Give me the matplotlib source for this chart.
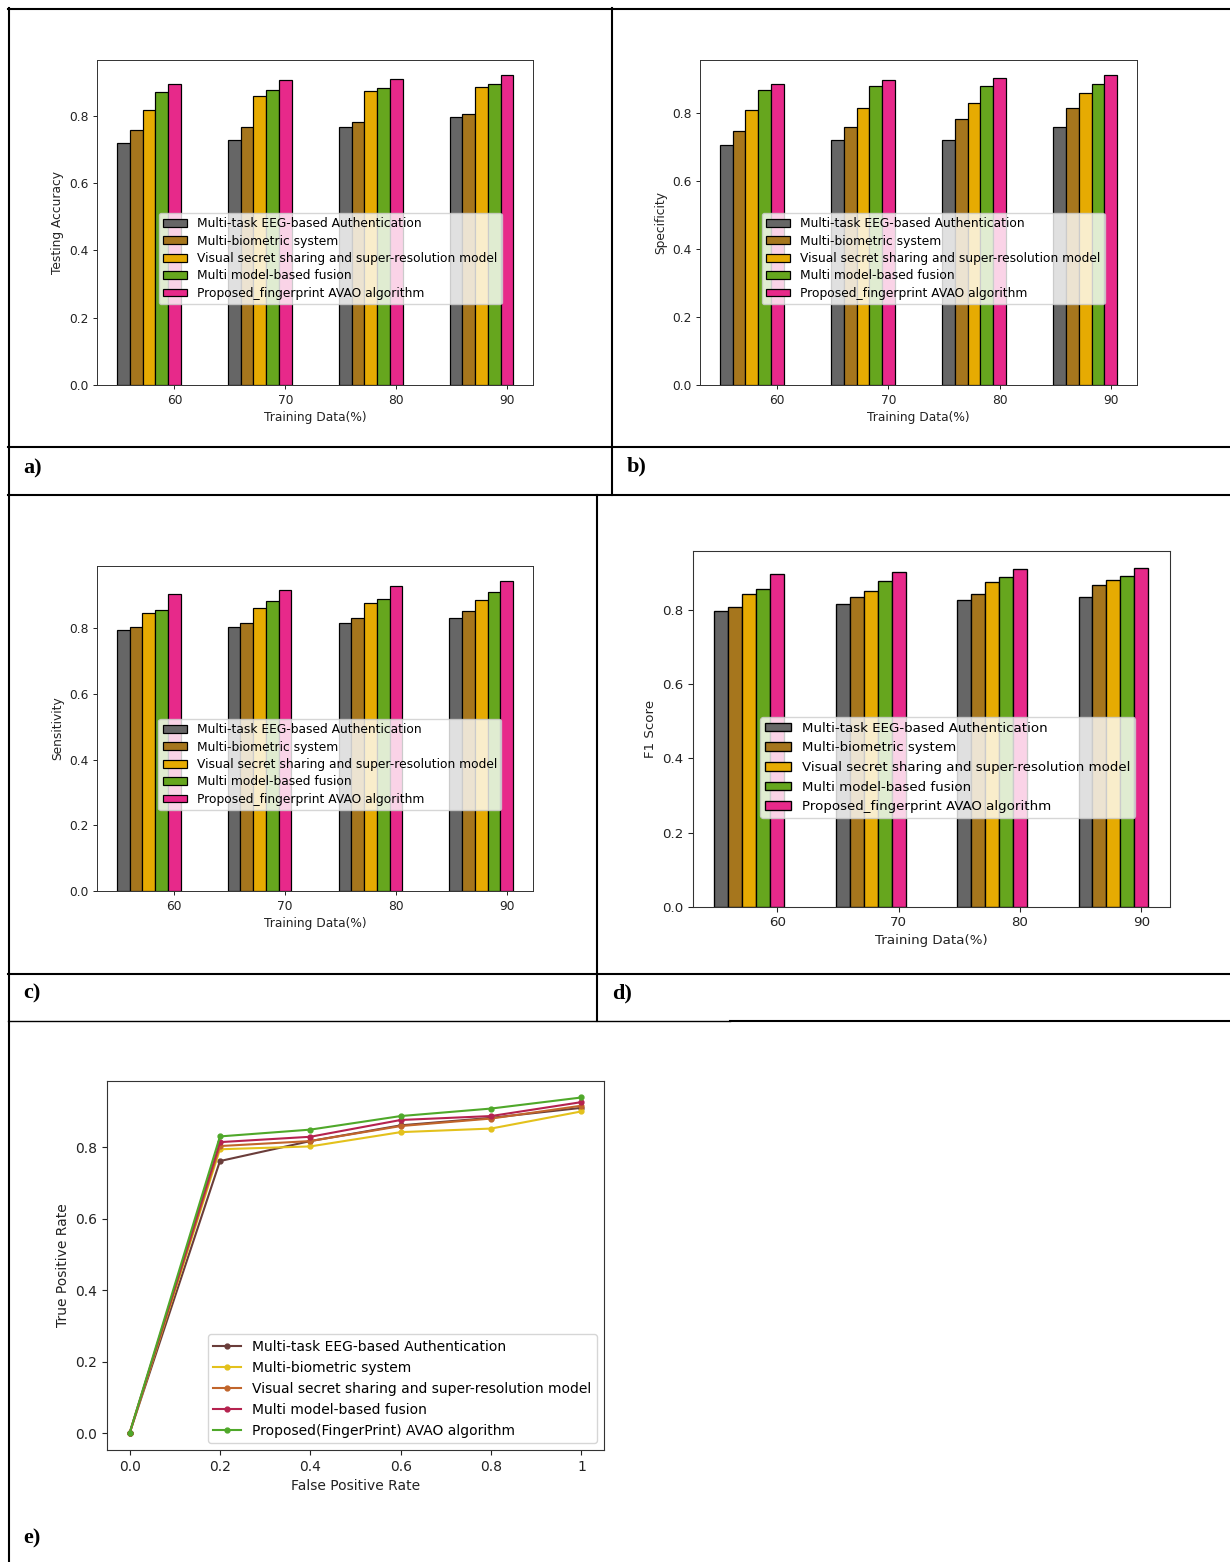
import matplotlib
matplotlib.use("Agg")
import matplotlib.pyplot as plt
import numpy as np
from matplotlib.lines import Line2D

# ---------------- data ----------------
training = ["60", "70", "80", "90"]
methods = ["Multi-task EEG-based Authentication",
           "Multi-biometric system",
           "Visual secret sharing and super-resolution model",
           "Multi model-based fusion",
           "Proposed_fingerprint AVAO algorithm"]
bar_colors = ["#666666", "#a6761d", "#e6ab02", "#66a61e", "#e7298a"]

acc_eeg = [0.719, 0.726, 0.767, 0.797]
acc_bio = [0.757, 0.767, 0.781, 0.805]
acc_vss = [0.817, 0.859, 0.873, 0.885]
acc_mmf = [0.869, 0.876, 0.882, 0.895]
acc_avao = [0.895, 0.905, 0.908, 0.919]

spe_eeg = [0.707, 0.720, 0.720, 0.758]
spe_bio = [0.748, 0.758, 0.782, 0.816]
spe_vss = [0.810, 0.816, 0.830, 0.859]
spe_mmf = [0.869, 0.879, 0.881, 0.887]
spe_avao = [0.887, 0.897, 0.904, 0.911]

sen_eeg = [0.795, 0.804, 0.815, 0.831]
sen_bio = [0.804, 0.817, 0.831, 0.852]
sen_vss = [0.845, 0.862, 0.878, 0.887]
sen_mmf = [0.855, 0.884, 0.888, 0.911]
sen_avao = [0.904, 0.917, 0.929, 0.942]

f1_eeg = [0.797, 0.818, 0.827, 0.837]
f1_bio = [0.808, 0.837, 0.844, 0.867]
f1_vss = [0.844, 0.853, 0.876, 0.883]
f1_mmf = [0.857, 0.879, 0.889, 0.893]
f1_avao = [0.899, 0.902, 0.911, 0.915]

fpr = [0.0, 0.2, 0.4, 0.6, 0.8, 1.0]
fpr_labels = ["0.0", "0.2", "0.4", "0.6", "0.8", "1"]
roc_methods = ["Multi-task EEG-based Authentication",
               "Multi-biometric system",
               "Visual secret sharing and super-resolution model",
               "Multi model-based fusion",
               "Proposed(FingerPrint) AVAO algorithm"]
roc_colors = ["#6a3d3a", "#e3c11c", "#c1652b", "#b5224f", "#4fa82a"]
tpr_eeg = [0.0, 0.762, 0.818, 0.862, 0.883, 0.911]
tpr_bio = [0.0, 0.795, 0.803, 0.843, 0.853, 0.901]
tpr_vss = [0.0, 0.804, 0.818, 0.860, 0.881, 0.917]
tpr_mmf = [0.0, 0.815, 0.830, 0.877, 0.888, 0.927]
tpr_avao = [0.0, 0.831, 0.850, 0.888, 0.909, 0.940]

# ---------------- figure ----------------
W, H = 1230, 1562
fig = plt.figure(figsize=(W / 100, H / 100), dpi=100)
fig.patch.set_facecolor("white")


def ax_px(l, t, r, b):
    return fig.add_axes([l / W, 1 - b / H, (r - l) / W, (b - t) / H])


def style_axes(ax, s):
    for sp in ax.spines.values():
        sp.set_linewidth(0.8 * s)
        sp.set_color("#333333")
    ax.tick_params(labelsize=10 * s, length=3.5 * s, width=0.8 * s,
                   pad=3.5 * s, colors="#222222")


def bar_panel(rect, series, ylabel, s, spacing):
    ax = ax_px(*rect)
    x = np.arange(len(training))
    w = 0.115
    for k, vals in enumerate(series):
        ax.bar(x + k * w, vals, w, color=bar_colors[k], edgecolor="black",
               linewidth=1.0 * s, label=methods[k])
    ax.set_xticks(x + 4 * w)
    ax.set_xticklabels(training)
    ax.set_yticks([0.0, 0.2, 0.4, 0.6, 0.8])
    style_axes(ax, s)
    ax.set_xlabel("Training Data(%)", fontsize=10 * s, labelpad=4 * s, color="#222222")
    ax.set_ylabel(ylabel, fontsize=10 * s, labelpad=4 * s, color="#222222")
    ax.legend(loc="lower left", bbox_to_anchor=(0.141, 0.249), borderaxespad=0,
              fontsize=10 * s, labelspacing=spacing, borderpad=0.35,
              handleheight=0.6)
    return ax


bar_panel((97.3, 60, 533.3, 385),
          [acc_eeg, acc_bio, acc_vss, acc_mmf, acc_avao], "Testing Accuracy", 0.879, 0.36)
bar_panel((700, 60, 1137, 385),
          [spe_eeg, spe_bio, spe_vss, spe_mmf, spe_avao], "Specificity", 0.881, 0.36)
bar_panel((97, 566, 533, 891),
          [sen_eeg, sen_bio, sen_vss, sen_mmf, sen_avao], "Sensitivity", 0.879, 0.36)
bar_panel((692.7, 550.7, 1170, 906.7),
          [f1_eeg, f1_bio, f1_vss, f1_mmf, f1_avao], "F1 Score", 0.963, 0.5)

# ROC panel
axe = ax_px(107, 1080.7, 604, 1450)
for vals, c, lab in zip([tpr_eeg, tpr_bio, tpr_vss, tpr_mmf, tpr_avao],
                        roc_colors, roc_methods):
    axe.plot(fpr, vals, marker="o", markersize=3.5, linewidth=1.5, color=c, label=lab)
axe.set_xticks(fpr)
axe.set_xticklabels(fpr_labels)
axe.set_yticks([0.0, 0.2, 0.4, 0.6, 0.8])
style_axes(axe, 1.0)
axe.set_xlabel("False Positive Rate", fontsize=10, color="#222222")
axe.set_ylabel("True Positive Rate", fontsize=10, color="#222222")
axe.legend(loc="lower right", fontsize=10)

# ---------------- table borders ----------------
def hline(y, x0, x1, lw=1.5):
    fig.add_artist(Line2D([x0 / W, x1 / W], [1 - y / H, 1 - y / H],
                          transform=fig.transFigure, color="black", linewidth=lw))


def vline(x, y0, y1, lw=1.5):
    fig.add_artist(Line2D([x / W, x / W], [1 - y0 / H, 1 - y1 / H],
                          transform=fig.transFigure, color="black", linewidth=lw))


hline(8.5, 8, 1230)
vline(8.5, 8, 1562)
vline(611.7, 8, 494.7)
hline(446.7, 8, 1230)
hline(494.7, 8, 1230)
vline(596.7, 494.7, 1021)
hline(974, 8, 1230)
hline(1021, 8, 730, lw=1.0)
hline(1021, 730, 1230)

# panel labels
for lab, px, py in [("a)", 23, 468), ("b)", 627, 466), ("c)", 23, 993),
                    ("d)", 612, 993), ("e)", 23, 1538)]:
    fig.text(px / W, 1 - py / H, lab, fontsize=16, fontweight="bold",
             family="Liberation Serif", ha="left", va="center", color="black")

fig.savefig("out.png", dpi=100, facecolor="white")
